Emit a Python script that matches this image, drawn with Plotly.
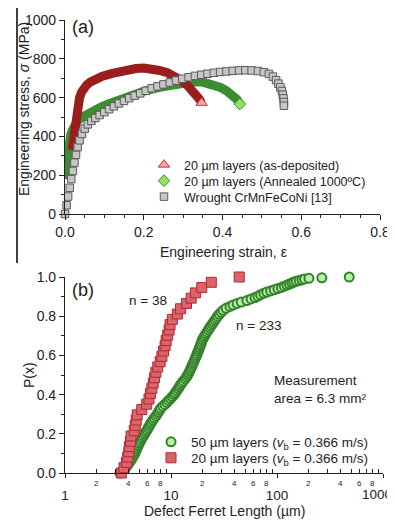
import numpy as np
import plotly.graph_objects as go

# ---------------- data: panel (a) ----------------
asdep_strain = [0.018, 0.021, 0.024, 0.027, 0.030, 0.033, 0.037, 0.042, 0.048, 0.055, 0.064, 0.078,
                0.095, 0.12, 0.14, 0.16, 0.18, 0.20, 0.22, 0.24, 0.26, 0.28, 0.295, 0.31, 0.32, 0.33,
                0.34, 0.347]
asdep_stress = [330, 390, 440, 490, 530, 565, 600, 628, 650, 665, 680, 695,
                710, 725, 736, 745, 750, 752, 748, 740, 728, 710, 690, 665, 645, 620,
                595, 573]

ann_strain = [0.000, 0.002, 0.004, 0.007, 0.010, 0.014, 0.018, 0.022, 0.027, 0.033, 0.042, 0.055,
              0.070, 0.090, 0.110, 0.135, 0.165, 0.20, 0.24, 0.28, 0.32, 0.35, 0.375, 0.395,
              0.41, 0.425, 0.437, 0.444]
ann_stress = [180, 230, 280, 330, 370, 405, 430, 450, 468, 482, 498, 515,
              530, 550, 567, 588, 610, 633, 653, 670, 680, 680, 668, 652,
              635, 612, 590, 567]

wr_strain = [0.000, 0.004, 0.008, 0.012, 0.016, 0.020, 0.024, 0.028, 0.032, 0.037, 0.043, 0.050,
             0.058, 0.067, 0.077, 0.088, 0.100, 0.112, 0.124, 0.137, 0.150, 0.163, 0.177, 0.191,
             0.205, 0.220, 0.235, 0.250, 0.266, 0.282, 0.298, 0.314, 0.330, 0.346, 0.362, 0.378,
             0.394, 0.410, 0.426, 0.442, 0.458, 0.474, 0.490, 0.505, 0.518, 0.528, 0.536, 0.542,
             0.547, 0.551, 0.553, 0.555, 0.556, 0.556]
wr_stress = [0, 45, 90, 135, 180, 222, 265, 305, 345, 380, 412, 440,
             462, 480, 495, 510, 525, 540, 555, 570, 583, 597, 610, 622,
             635, 648, 658, 668, 678, 688, 697, 705, 712, 718, 723, 728,
             732, 735, 738, 740, 741, 740, 737, 731, 722, 708, 690, 672,
             653, 634, 615, 596, 577, 558]

# ---------------- data: panel (b) ----------------
red_len = [3.4, 3.6, 3.8, 3.9, 4.0, 4.05, 4.15, 4.2, 4.5, 4.6, 4.7, 4.8, 5.3, 5.9, 6.2, 6.4, 6.6,
           6.8, 7.0, 7.2, 7.5, 7.9, 8.2, 8.5, 8.8, 9.0, 9.3, 9.6, 9.8, 10.3, 11.5, 12.3, 14.0,
           15.5, 17.0, 19.5, 24.0, 44.0]
red_p = [0.000, 0.027, 0.054, 0.081, 0.108, 0.135, 0.162, 0.189, 0.216, 0.243, 0.270, 0.297,
         0.324, 0.351, 0.378, 0.405, 0.432, 0.459, 0.486, 0.514, 0.541, 0.568, 0.595, 0.622,
         0.649, 0.676, 0.703, 0.730, 0.757, 0.784, 0.811, 0.838, 0.865, 0.892, 0.919, 0.946,
         0.973, 1.000]

grn_len = [3.30, 3.45, 3.65, 3.78, 3.90, 4.02, 4.14, 4.25, 4.36, 4.46, 4.55, 4.64, 4.72, 4.80,
           4.90, 5.00, 5.12, 5.22, 5.35, 5.50, 5.65, 5.80, 5.95, 6.10, 6.25, 6.40, 6.55, 6.75,
           6.95, 7.20, 7.40, 7.60, 7.80, 8.00, 8.35, 8.75, 9.15, 9.50, 9.90, 10.3, 10.7, 11.0,
           11.35, 11.7, 12.0, 12.3, 12.7, 13.1, 13.6, 14.0, 14.4, 14.7, 15.0, 15.3, 15.6, 15.9,
           16.2, 16.5, 16.8, 17.1, 17.4, 17.7, 18.0, 18.3, 18.6, 18.9, 19.2, 19.5, 19.8, 20.3,
           20.8, 21.3, 21.9, 22.5, 23.1, 23.8, 24.5, 25.2, 26.0, 26.8, 27.5, 28.5, 29.7, 31.0,
           33.0, 36.0, 38.5, 42, 46, 52, 57, 62, 66, 70, 75, 80, 87, 94, 102, 110, 117, 124,
           131, 138, 144, 152, 162, 172, 182, 200, 265, 480]
grn_p = [0.000, 0.010, 0.020, 0.030, 0.040, 0.050, 0.060, 0.070, 0.080, 0.090, 0.100, 0.110,
         0.120, 0.130, 0.140, 0.150, 0.160, 0.170, 0.180, 0.190, 0.200, 0.210, 0.220, 0.230,
         0.240, 0.250, 0.260, 0.270, 0.280, 0.290, 0.300, 0.310, 0.320, 0.330, 0.340, 0.350,
         0.360, 0.370, 0.380, 0.390, 0.400, 0.410, 0.420, 0.430, 0.440, 0.450, 0.460, 0.470,
         0.480, 0.490, 0.500, 0.510, 0.520, 0.530, 0.540, 0.550, 0.560, 0.570, 0.580, 0.590,
         0.600, 0.610, 0.620, 0.630, 0.640, 0.650, 0.660, 0.670, 0.680, 0.690, 0.700, 0.710,
         0.720, 0.730, 0.740, 0.750, 0.760, 0.770, 0.780, 0.790, 0.800, 0.810, 0.820, 0.830,
         0.840, 0.850, 0.857, 0.865, 0.872, 0.880, 0.888, 0.895, 0.902, 0.910, 0.917, 0.923,
         0.929, 0.935, 0.941, 0.947, 0.953, 0.959, 0.964, 0.969, 0.974, 0.978, 0.982, 0.986,
         0.990, 0.993, 0.996, 1.000]

strain_ticks = [0.0, 0.2, 0.4, 0.6, 0.8]
len_major_ticks = [1, 10, 100, 1000]
len_major_labels = ["1", "10", "100", "1000"]
len_minor_labels = [2, 4, 6, 8]

# ---------------- layout helpers ----------------
W, H = 395, 521
OFF = 8  # the page body adds an 8 px margin around the plot div
FONT = "Liberation Sans, Arial, sans-serif"
TXT = "#222222"


def px(x):
    return (x - OFF) / W


def py(y):
    return 1 - (y - OFF) / H


fig = go.Figure()

# panel (a)
fig.add_trace(go.Scatter(x=ann_strain, y=ann_stress, mode="lines", xaxis="x", yaxis="y",
                         line=dict(color="#3C8C30", width=9), showlegend=False, hoverinfo="skip"))
fig.add_trace(go.Scatter(x=asdep_strain, y=asdep_stress, mode="lines", xaxis="x", yaxis="y",
                         line=dict(color="#9A1E1E", width=9), showlegend=False, hoverinfo="skip"))
fig.add_trace(go.Scatter(x=[ann_strain[-1]], y=[ann_stress[-1]], mode="markers", xaxis="x", yaxis="y",
                         name="20 µm layers (Annealed 1000ºC)", legend="legend2",
                         marker=dict(symbol="diamond", size=9, color="#8EE35E",
                                     line=dict(color="#3C8C30", width=1))))
fig.add_trace(go.Scatter(x=[asdep_strain[-1]], y=[asdep_stress[-1]], mode="markers", xaxis="x", yaxis="y",
                         name="20 µm layers (as-deposited)", legend="legend",
                         marker=dict(symbol="triangle-up", size=10, color="#F2A3A3",
                                     line=dict(color="#C43A3A", width=1))))
fig.add_trace(go.Scatter(x=wr_strain, y=wr_stress, mode="markers", xaxis="x", yaxis="y",
                         name="Wrought CrMnFeCoNi [13]", legend="legend3", cliponaxis=False,
                         marker=dict(symbol="square", size=7.5, color="#C6C6C6",
                                     line=dict(color="#5A5A5A", width=1))))

# panel (b)
fig.add_trace(go.Scatter(x=grn_len, y=grn_p, mode="markers", xaxis="x2", yaxis="y2",
                         name="50 µm layers (<i>v</i><sub>b</sub> = 0.366 m/s)", legend="legend4",
                         cliponaxis=False,
                         marker=dict(symbol="circle", size=9, color="#B9F1A2",
                                     line=dict(color="#34822C", width=2.0))))
fig.add_trace(go.Scatter(x=red_len, y=red_p, mode="markers", xaxis="x2", yaxis="y2",
                         name="20 µm layers (<i>v</i><sub>b</sub> = 0.366 m/s)", legend="legend5",
                         cliponaxis=False,
                         marker=dict(symbol="square", size=10, color="#D9646B",
                                     line=dict(color="#B02A30", width=1))))

axis_common = dict(showline=True, linecolor="#222222", linewidth=1.2, showgrid=False, zeroline=False,
                   automargin=False, tickcolor="#222222",
                   tickfont=dict(family=FONT, size=14, color=TXT))

# the last major label ("1000") sits against the right edge; it is drawn as a right-anchored text below
axis_ticktext = len_major_labels[:-1] + [""]

fig.update_layout(
    width=W, height=H, margin=dict(l=0, r=0, t=0, b=0, pad=0), autosize=False,
    paper_bgcolor="white", plot_bgcolor="white",
    font=dict(family=FONT, color=TXT),
    xaxis=dict(domain=[px(65), px(380)], range=[0, 0.8], anchor="y",
               tickvals=strain_ticks, tickformat=".1f", ticks="outside", ticklen=5,
               minor=dict(dtick=0.05, ticks="outside", ticklen=3, tickcolor="#222222"),
               **axis_common),
    yaxis=dict(domain=[py(214), py(20)], range=[0, 1000], anchor="x",
               dtick=200, ticks="outside", ticklen=5,
               minor=dict(dtick=100, ticks="outside", ticklen=3, tickcolor="#222222"),
               **axis_common),
    xaxis2=dict(domain=[px(65), px(383)], type="log", range=[0, 3], anchor="y2",
                tickvals=len_major_ticks, ticktext=axis_ticktext,
                ticks="outside", ticklen=4, ticklabelstandoff=6,
                minor=dict(tickvals=[m * 10 ** d for d in range(3) for m in range(2, 10)],
                           ticks="inside", ticklen=4, tickcolor="#222222"),
                **{**axis_common, "tickfont": dict(family=FONT, size=13.5, color=TXT)}),
    yaxis2=dict(domain=[py(473), py(277)], range=[0, 1], anchor="x2",
                dtick=0.2, tickformat=".1f", ticks="outside", ticklen=5,
                minor=dict(dtick=0.1, ticks="outside", ticklen=3, tickcolor="#222222"),
                **axis_common),
)

legend_base = dict(bgcolor="rgba(0,0,0,0)", borderwidth=0, xanchor="left", yanchor="middle")
fig.update_layout(
    legend=dict(x=px(144), y=py(165), font=dict(family=FONT, size=12.5, color=TXT), **legend_base),
    legend2=dict(x=px(144), y=py(181), font=dict(family=FONT, size=12.5, color=TXT), **legend_base),
    legend3=dict(x=px(144), y=py(197), font=dict(family=FONT, size=12.5, color=TXT), **legend_base),
    legend4=dict(x=px(151), y=py(442), font=dict(family=FONT, size=13.5, color=TXT), **legend_base),
    legend5=dict(x=px(151), y=py(458), font=dict(family=FONT, size=13.5, color=TXT), **legend_base),
)

ann = []


def add_text(text, x, y, size, angle=0, xanchor="center", align="center"):
    ann.append(dict(text=text, x=px(x), y=py(y), xref="paper", yref="paper", showarrow=False,
                    xanchor=xanchor, yanchor="middle", textangle=angle, align=align,
                    font=dict(family=FONT, size=size, color=TXT)))


add_text("(a)", 83, 27, 18)
add_text("(b)", 83, 290, 18)
add_text("n = 38", 148, 300, 13.5)
add_text("n = 233", 258, 325, 13.5)
add_text("Measurement<br>area = 6.3 mm²", 272, 389, 13.5, xanchor="left", align="left")
add_text("Engineering strain, ε", 223, 252, 14)
add_text("Engineering stress, <i>σ</i> (MPa)", 24, 109, 14, angle=-90)
add_text("P(x)", 29, 375, 14, angle=-90)
add_text("Defect Ferret Length (µm)", 224, 511, 14)
add_text(len_major_labels[-1], 394, 494, 13.5, xanchor="right")

for d in [1, 10, 100]:
    for m in len_minor_labels:
        ann.append(dict(text=str(m), x=np.log10(m * d), y=py(483), xref="x2", yref="paper",
                        showarrow=False, xanchor="center", yanchor="middle",
                        font=dict(family=FONT, size=8, color=TXT)))

fig.update_layout(annotations=ann)
fig.add_shape(type="line", xref="paper", yref="paper", x0=px(17), x1=px(17), y0=py(8), y1=py(263),
              line=dict(color="black", width=1.5))

fig.write_html("out.html")
